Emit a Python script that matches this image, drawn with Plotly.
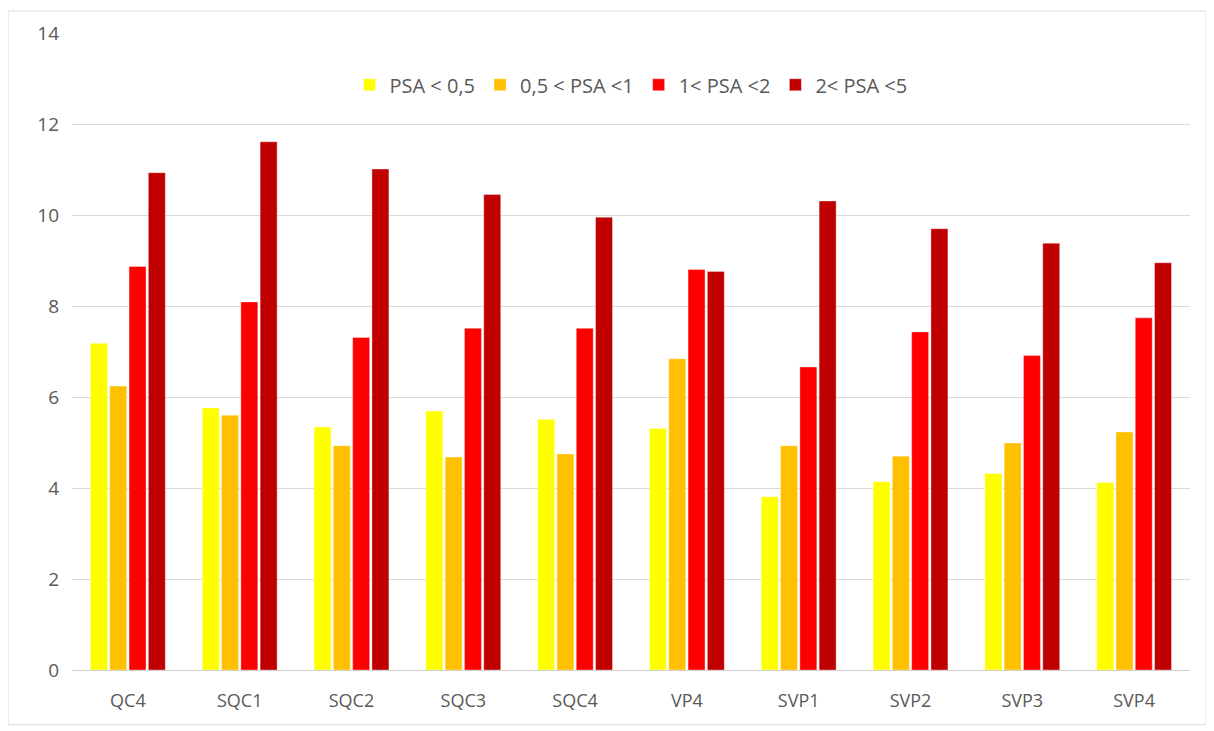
import plotly.graph_objects as go

categories = ["QC4", "SQC1", "SQC2", "SQC3", "SQC4", "VP4", "SVP1", "SVP2", "SVP3", "SVP4"]
series_names = ["PSA < 0,5", "0,5 < PSA <1", "1< PSA <2", "2< PSA <5"]
psa_lt_05 = [7.18, 5.76, 5.34, 5.69, 5.51, 5.31, 3.81, 4.14, 4.32, 4.12]
psa_05_1 = [6.24, 5.60, 4.93, 4.68, 4.75, 6.84, 4.93, 4.70, 4.99, 5.23]
psa_1_2 = [8.87, 8.09, 7.31, 7.51, 7.51, 8.80, 6.66, 7.43, 6.91, 7.74]
psa_2_5 = [10.93, 11.61, 11.01, 10.45, 9.95, 8.76, 10.31, 9.70, 9.38, 8.95]
colors = ["#FFFF00", "#FFC000", "#FF0000", "#C00000"]
y_ticks = [0, 2, 4, 6, 8, 10, 12, 14]

fig = go.Figure()
for name, vals, col in zip(series_names, [psa_lt_05, psa_05_1, psa_1_2, psa_2_5], colors):
    fig.add_trace(go.Bar(x=categories, y=vals, name=name,
                         marker=dict(color=col, line=dict(color="rgba(255,255,255,0.6)", width=0.6))))

# page has an 8px body margin; figure is sized/offset to compensate
OFF = 8
W, H = 1206, 723
ml, mr, mt, mb = 64, 24, 22, 61
pw, ph = W - ml - mr, H - mt - mb

def px_x(v):
    return (v - OFF - ml) / pw

def px_y(v):
    return (H - mb - (v - OFF)) / ph

fig.update_layout(
    width=W, height=H,
    margin=dict(l=ml, r=mr, t=mt, b=mb),
    paper_bgcolor="white", plot_bgcolor="white",
    barmode="group", bargap=0.31, bargroupgap=0.12,
    font=dict(family="Open Sans, Liberation Sans, sans-serif", color="#595959", size=16),
    legend=dict(orientation="h", x=0.5, xanchor="center", y=px_y(82), yanchor="middle",
                font=dict(size=20, color="#595959"),
                itemwidth=30, traceorder="normal", bgcolor="rgba(0,0,0,0)"),
    xaxis=dict(showgrid=False, showline=True, linecolor="#d0d0d0", linewidth=1,
               ticks="", ticklabelstandoff=14,
               tickfont=dict(size=18, color="#595959")),
    yaxis=dict(range=[0, 14], tickvals=y_ticks, showgrid=True, gridcolor="#d9d9d9", gridwidth=1,
               zeroline=False, showline=False, ticks="", ticklabelstandoff=12,
               tickfont=dict(size=19, color="#595959")),
    shapes=[dict(type="rect", xref="paper", yref="paper",
                 x0=px_x(8), x1=px_x(1206), y0=px_y(725), y1=px_y(8),
                 line=dict(color="#d9d9d9", width=1), fillcolor="rgba(0,0,0,0)", layer="below")],
)

fig.write_html("out.html")
